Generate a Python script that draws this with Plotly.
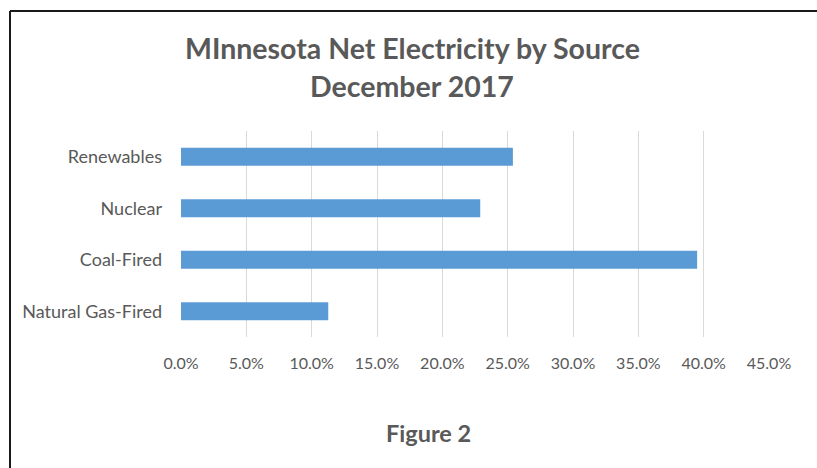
import plotly.graph_objects as go

# Share of net electricity generation by source, December 2017
sources = ["Natural Gas-Fired", "Coal-Fired", "Nuclear", "Renewables"]
shares = [0.1127, 0.395, 0.229, 0.254]
tick_values = [0.0, 0.05, 0.10, 0.15, 0.20, 0.25, 0.30, 0.35, 0.40, 0.45]
title_lines = ["MInnesota Net Electricity by Source", "December 2017"]
caption = "Figure 2"

W, H = 817, 468
L, R, T, B = 181, 48, 131, 131
pw, ph = W - L - R, H - T - B

def px(x):
    return (x - L) / pw

def py(y):
    return (H - B - y) / ph

font = "Lato"
grey = "#595959"

fig = go.Figure(
    go.Bar(
        x=shares,
        y=sources,
        orientation="h",
        marker=dict(color="#5B9BD5", line=dict(width=0)),
        width=0.35,
        hoverinfo="x+y",
    )
)

def label(text, x, y, size):
    return dict(
        text=f"<b>{text}</b>",
        xref="paper", yref="paper",
        x=px(x), y=py(y),
        xanchor="center", yanchor="middle",
        showarrow=False,
        font=dict(family=font, size=size, color=grey),
    )

fig.update_layout(
    width=W,
    height=H,
    margin=dict(l=L, r=R, t=T, b=B),
    paper_bgcolor="white",
    plot_bgcolor="white",
    showlegend=False,
    font=dict(family=font, color=grey),
    xaxis=dict(
        range=[0, 0.45],
        tickvals=tick_values,
        tickformat=".1%",
        showgrid=True,
        gridcolor="#d9d9d9",
        gridwidth=1,
        zeroline=False,
        showline=False,
        ticks="",
        ticklabelstandoff=15,
        tickfont=dict(family=font, size=16, color=grey),
        fixedrange=True,
    ),
    yaxis=dict(
        categoryorder="array",
        categoryarray=sources,
        showgrid=False,
        zeroline=False,
        showline=False,
        ticks="",
        ticklabelstandoff=18,
        tickfont=dict(family=font, size=18, color=grey),
        fixedrange=True,
    ),
    annotations=[
        label(title_lines[0], 412, 48, 28.5),
        label(title_lines[1], 412, 86, 28.5),
        label(caption, 428, 433, 23.5),
    ],
    shapes=[
        # chart frame: top and left edges
        dict(type="line", xref="paper", yref="paper",
             x0=px(10), x1=px(W + 2), y0=py(11), y1=py(11),
             line=dict(color="#1a1a1a", width=2)),
        dict(type="line", xref="paper", yref="paper",
             x0=px(10), x1=px(10), y0=py(11), y1=py(H + 2),
             line=dict(color="#1a1a1a", width=2)),
    ],
)

fig.write_html("out.html")
